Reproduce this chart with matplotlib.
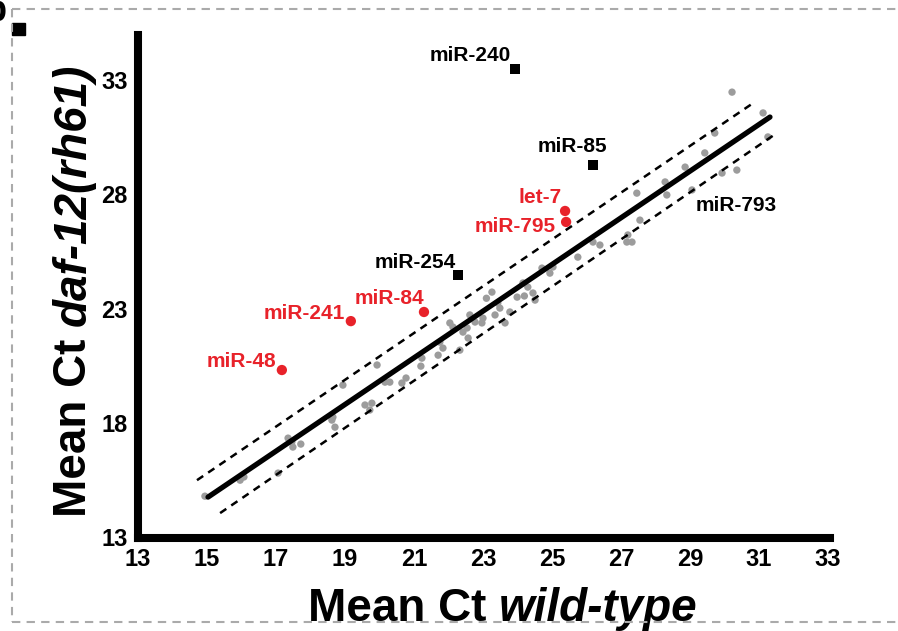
import matplotlib
matplotlib.use('Agg')
import matplotlib.pyplot as plt
from matplotlib.patches import Rectangle
from matplotlib.lines import Line2D

plt.rcParams['font.family'] = ['Liberation Sans', 'DejaVu Sans']
plt.rcParams['font.weight'] = 'bold'

# ---- data: mean Ct values (wild-type vs daf-12(rh61)) ----
wt_ct = [14.94, 15.96, 16.07, 17.06, 17.35, 17.46, 17.49, 17.72, 18.65, 18.62,
         18.71, 18.94, 19.58, 19.78, 19.72, 19.93, 20.16, 20.30, 20.65, 21.20,
         21.23, 21.70, 21.84, 22.33, 22.13, 22.42, 22.54, 22.57, 22.62, 22.77,
         22.97, 23.26, 23.43, 23.49, 23.35, 23.64, 23.78, 23.99, 24.30, 24.45,
         24.51, 24.71, 25.03, 24.94, 25.75, 26.19, 26.39, 27.20, 27.17, 27.32,
         27.46, 27.55, 28.28, 28.33, 28.86, 29.06, 29.43, 29.93, 30.36, 29.72,
         30.22, 31.12, 31.26, 24.16, 23.00, 22.04, 20.77, 21.75, 24.20, 23.10]
mut_ct = [14.79, 15.49, 15.63, 15.80, 17.33, 17.16, 16.94, 17.07, 18.25, 18.12,
          17.81, 19.65, 18.78, 18.86, 18.56, 20.53, 19.78, 19.78, 19.74, 20.48,
          20.83, 20.96, 21.27, 21.18, 22.19, 21.97, 22.15, 21.71, 22.72, 22.41,
          22.37, 23.72, 23.24, 23.02, 22.72, 22.37, 22.85, 23.50, 23.94, 23.68,
          23.37, 24.77, 24.82, 24.55, 25.25, 25.91, 25.78, 26.22, 25.91, 25.91,
          28.05, 26.87, 28.54, 27.97, 29.19, 28.19, 29.81, 28.93, 29.06, 30.68,
          32.47, 31.56, 30.51, 24.12, 22.58, 22.37, 19.96, 21.53, 23.55, 23.45]

red_names = ['let-7', 'miR-795', 'miR-84', 'miR-241', 'miR-48']
red_wt = [25.38, 25.41, 21.29, 19.17, 17.17]
red_mut = [27.27, 26.79, 22.85, 22.45, 20.31]

black_names = ['miR-240', 'miR-85', 'miR-254']
black_wt = [23.93, 26.19, 22.28]
black_mut = [33.48, 29.28, 24.47]

# label anchor positions (data coords)
red_lab_x = [24.65, 23.93, 20.28, 17.81, 15.99]
red_lab_y = [27.84, 26.57, 23.46, 22.80, 20.70]
black_lab_x = [22.62, 25.58, 21.03]
black_lab_y = [34.09, 30.07, 25.03]
extra_name = 'miR-793'
extra_lab_xy = (30.33, 27.49)

# fit line and +/- boundaries
fit_x = [15.03, 31.32]
fit_y = [14.75, 31.38]
up_x = [14.71, 30.88]
up_y = [15.49, 32.04]
lo_x = [15.38, 31.52]
lo_y = [14.05, 30.68]

xticks = [13, 15, 17, 19, 21, 23, 25, 27, 29, 31, 33]
yticks = [13, 18, 23, 28, 33]

RED = '#e8222a'
GRAY = '#9c9c9c'

fig = plt.figure(figsize=(8.98, 6.31), dpi=100)
ax = fig.add_axes([138/898, 1-538/631, (830-138)/898, (538-35)/631])
ax.set_xlim(13, 33.06)
ax.set_ylim(12.96, 34.97)

ax.scatter(wt_ct, mut_ct, s=28, color=GRAY, edgecolors='none', zorder=2)
ax.plot(up_x, up_y, color='k', lw=1.8, dashes=(3, 2.4), zorder=3)
ax.plot(lo_x, lo_y, color='k', lw=1.8, dashes=(3, 2.4), zorder=3)
ax.plot(fit_x, fit_y, color='k', lw=3.8, solid_capstyle='round', zorder=3)
ax.scatter(red_wt, red_mut, s=55, color=RED, edgecolors='none', zorder=4)
ax.scatter(black_wt, black_mut, s=50, marker='s', color='k', edgecolors='none', zorder=4)

LFS = 15
for n, x, y in zip(red_names, red_lab_x, red_lab_y):
    ax.text(x, y, n, color=RED, fontsize=LFS, fontweight='bold', ha='center', va='center')
for n, x, y in zip(black_names, black_lab_x, black_lab_y):
    ax.text(x, y, n, color='k', fontsize=LFS, fontweight='bold', ha='center', va='center')
ax.text(extra_lab_xy[0], extra_lab_xy[1], extra_name, color='k', fontsize=LFS,
        fontweight='bold', ha='center', va='center')

for s in ['top', 'right']:
    ax.spines[s].set_visible(False)
for s in ['left', 'bottom']:
    ax.spines[s].set_linewidth(5.8)
    ax.spines[s].set_capstyle('projecting')

ax.set_xticks(xticks)
ax.set_yticks(yticks)
ax.set_xticklabels([str(v) for v in xticks])
ax.set_yticklabels([str(v) for v in yticks])
ax.tick_params(direction='out', length=2.5, width=3, labelsize=17, pad=5)

# axis titles with mixed italic
FS = 33
t1 = fig.text(308/898, 1-621/631, 'Mean Ct ', fontsize=FS, fontweight='bold',
              ha='left', va='baseline')
ax.annotate('wild-type', xy=(1, 0), xycoords=t1, ha='left', va='bottom',
            fontsize=FS, fontweight='bold', style='italic', annotation_clip=False)

t3 = fig.text(86/898, 1-517/631, 'Mean Ct ', fontsize=FS, fontweight='bold',
              rotation=90, rotation_mode='anchor', ha='left', va='baseline')
ax.annotate('daf-12(rh61)', xy=(1, 1), xycoords=t3, ha='right', va='bottom',
            rotation=90, fontsize=FS, fontweight='bold', style='italic',
            annotation_clip=False)

# dashed panel border
bc = '#aaaaaa'
fig.add_artist(Line2D([12/898, 1], [1-9/631, 1-9/631], transform=fig.transFigure,
                      color=bc, lw=1.5, dashes=(4, 3)))
fig.add_artist(Line2D([12/898, 12/898], [1-9/631, 1-622/631], transform=fig.transFigure,
                      color=bc, lw=1.5, dashes=(4, 3)))
fig.add_artist(Line2D([12/898, 1], [1-622/631, 1-622/631], transform=fig.transFigure,
                      color=bc, lw=1.5, dashes=(4, 3)))
fig.add_artist(Rectangle((12/898, 1-35/631), 13/898, 12/631, transform=fig.transFigure,
                         color='k'))
fig.text(7/898, 1+6/631, 'b', fontsize=26, fontweight='bold', ha='right', va='top')

fig.savefig('out.png', dpi=100)
